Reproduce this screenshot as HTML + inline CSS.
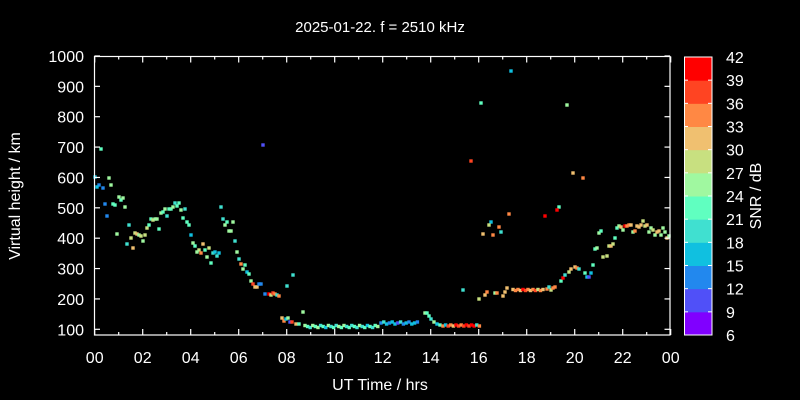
<!DOCTYPE html>
<html><head><meta charset="utf-8"><style>
html,body{margin:0;padding:0;background:#000;}
svg{display:block;font-family:"Liberation Sans",sans-serif;}
</style></head><body>
<svg id="s" width="800" height="400" xmlns="http://www.w3.org/2000/svg">
<rect width="800" height="400" fill="#000"/>
<text x="380" y="32" fill="#fff" font-size="15" text-anchor="middle">2025-01-22. f = 2510 kHz</text>
<g id="pts"></g>
<rect x="94.5" y="56.5" width="575.5" height="278.5" fill="none" stroke="#fff" stroke-width="1.2"/>
<g id="ax" stroke="#fff" stroke-width="1.2"></g>
<g id="lbl" fill="#fff" font-size="16"></g>
<text x="380" y="390" fill="#fff" font-size="16" text-anchor="middle">UT Time / hrs</text>
<text transform="translate(20,196) rotate(-90)" fill="#fff" font-size="16" text-anchor="middle">Virtual height / km</text>
<g id="cb"></g>
<text transform="translate(761,196) rotate(-90)" fill="#fff" font-size="16" text-anchor="middle">SNR / dB</text>
</svg>
<script>
var NS="http://www.w3.org/2000/svg";
function el(p,t,a,txt){var e=document.createElementNS(NS,t);for(var k in a)e.setAttribute(k,a[k]);if(txt!=null)e.textContent=txt;p.appendChild(e);return e;}
var ax=document.getElementById('ax'),lb=document.getElementById('lbl');
for(var h=100;h<=1000;h+=100){var y=329.3-(h-100)*0.3037;
 el(ax,'line',{x1:94.5,x2:100,y1:y,y2:y});el(ax,'line',{x1:664.5,x2:670,y1:y,y2:y});
 el(lb,'text',{x:84,y:y+6,'text-anchor':'end'},String(h));}
for(var i=0;i<=24;i++){var x=94.7+i*24;var L=(i%2==0)?6:3;
 el(ax,'line',{x1:x,x2:x,y1:335,y2:335-L});el(ax,'line',{x1:x,x2:x,y1:56.5,y2:56.5+L});
 if(i%2==0){var s=(i%24<10?'0':'')+(i%24);if(i==24)s='00';el(lb,'text',{x:x,y:363,'text-anchor':'middle'},s);}}
var cols=['#8000ff','#5050f8','#2288ee','#10c0e0','#40e0d0','#60ffc0','#a0f8a0','#c8e080','#f0c070','#ff8844','#ff4422','#ff0000'];
var cb=document.getElementById('cb');var cbTop=57,cbBot=335,bh=(cbBot-cbTop)/12;
for(var i=0;i<12;i++){el(cb,'rect',{x:684,y:cbBot-(i+1)*bh,width:28,height:bh+0.5,fill:cols[i]});}
el(cb,'rect',{x:684.5,y:cbTop,width:27.5,height:cbBot-cbTop,fill:'none',stroke:'#fff','stroke-width':1});
for(var i=0;i<=12;i++){var y=cbBot-i*bh;el(cb,'line',{x1:684,x2:688,y1:y,y2:y,stroke:'#fff'});el(cb,'line',{x1:708,x2:712,y1:y,y2:y,stroke:'#fff'});
 el(cb,'text',{x:726,y:y+6,fill:'#fff','font-size':16},String(6+i*3));}
var C={P:0,B:1,b:2,c:3,t:4,g:5,l:6,y:7,o:8,O:9,r:10,R:11};
var P=[[101,149,'g'],[95,177,'c'],[99,185,'b'],[97,187,'c'],[103,188,'b'],[109,178,'l'],[111,185,'l'],[105,204,'b'],[107,216,'b'],[113,204,'g'],[115,205,'g'],[119,197,'l'],[121,200,'g'],[123,198,'l'],[125,207,'l'],
[117,234,'l'],[127,244,'t'],[129,225,'t'],[131,238,'y'],[133,248,'o'],[135,233,'y'],[137,234,'o'],[139,235,'l'],[141,236,'y'],[143,241,'l'],[145,235,'y'],[147,228,'y'],[149,225,'g'],[151,219,'g'],[153,220,'y'],[155,219,'l'],[157,219,'l'],[159,229,'g'],[161,213,'l'],[163,212,'g'],[165,209,'l'],[167,216,'t'],[169,209,'g'],[171,209,'g'],[173,207,'l'],[175,203,'t'],[177,206,'g'],[179,203,'g'],[181,210,'l'],[185,209,'t'],
[183,218,'g'],[187,222,'g'],[189,225,'g'],[191,235,'c'],[193,243,'l'],[195,246,'g'],[199,250,'y'],[197,252,'l'],[201,253,'O'],[203,244,'o'],[205,250,'g'],[209,248,'y'],[207,257,'l'],[211,263,'g'],[213,253,'t'],[215,252,'c'],[217,256,'t'],[219,253,'c'],
[221,207,'t'],[223,219,'t'],[225,225,'l'],[227,222,'g'],[229,231,'l'],[231,231,'l'],[233,222,'l'],[235,241,'t'],[237,252,'l'],[239,259,'t'],[241,264,'O'],[245,265,'g'],[243,269,'l'],[247,272,'c'],[249,274,'g'],[251,281,'l'],[253,284,'r'],[255,287,'o'],[257,287,'o'],[259,284,'b'],[261,284,'b'],[265,294,'b'],[269,294,'R'],[271,295,'y'],[273,293,'r'],[275,294,'O'],[277,295,'t'],[279,296,'O'],[287,286,'t'],[263,145,'B'],
[282,318,'o'],[284,321,'O'],[286,319,'c'],[288,318,'l'],[290,322,'B'],[292,322,'r'],[293,275,'t'],[296,324,'o'],[299,324,'g'],[303,312,'l'],
[463,290,'t'],[471,161,'r'],[481,103,'g'],[511,71,'c'],[567,105,'l'],[573,173,'o'],[583,178,'O'],[559,207,'g'],[557,210,'R'],[545,216,'R'],[509,214,'O'],[491,222,'c'],[489,225,'y'],[499,227,'O'],[501,232,'t'],[483,234,'o'],[493,235,'O'],
[479,299,'y'],[485,295,'o'],[487,292,'O'],[495,293,'l'],[497,293,'O'],[503,296,'o'],[505,292,'o'],[507,288,'o'],[547,289,'O'],[549,287,'t'],[551,290,'y'],[553,288,'O'],[555,287,'O'],[561,281,'g'],[563,278,'R'],[565,275,'t'],[569,272,'y'],[571,269,'o'],[575,267,'o'],[577,268,'O'],[579,269,'t'],[585,273,'g'],[587,277,'c'],[589,277,'B'],[591,273,'c'],[593,265,'g'],[595,249,'g'],[597,248,'l'],[603,257,'y'],[607,256,'y'],[609,246,'y'],[611,246,'o'],[613,244,'y'],[615,238,'g'],[599,233,'l'],[601,231,'g'],[617,228,'g'],[619,226,'l'],[621,227,'o'],[623,230,'l'],[625,226,'R'],[627,226,'O'],[629,225,'O'],[631,225,'o'],[633,232,'l'],[635,231,'O'],[637,226,'o'],[639,227,'o'],[641,225,'o'],[643,221,'y'],[645,226,'y'],[647,225,'o'],[649,232,'l'],[651,228,'l'],[653,230,'y'],[655,235,'l'],[657,232,'o'],[659,231,'o'],[661,235,'l'],[663,228,'l'],[665,232,'l'],[667,238,'o'],[669,236,'l']];
var seq='lgtlgltgcltgtlgltgtgtltgcgtgltgtg';
var k=0;
for(var x=305;x<380;x+=2.6){P.push([x,326.5+((k*7)%3)-1,seq[k%seq.length]]);k++;}
var s2='bccbtcbccBtbc';
for(var x=381;x<418;x+=2.8){P.push([x,322+((k*5)%3),s2[k%s2.length]]);k++;}
P.push([425,313,'l'],[427,313,'g'],[429,316,'g'],[431,319,'t'],[434,322,'l'],[437,324,'c'],[440,325,'g']);
var s3='tOcrOoRrOrRrRR';
for(var x=443;x<480;x+=2.6){P.push([x,325+((k*3)%2),s3[k%s3.length]]);k++;}
var s4='OoRrOoOryOoO';
for(var x=513;x<545;x+=2.5){P.push([x,289.5+((k*3)%2),s4[k%s4.length]]);k++;}
var g=document.getElementById('pts');
P.forEach(function(p){el(g,'rect',{x:p[0]-1.7,y:p[1]-1.7,width:3.4,height:3.4,fill:cols[C[p[2]]]});});
</script>
</body></html>
